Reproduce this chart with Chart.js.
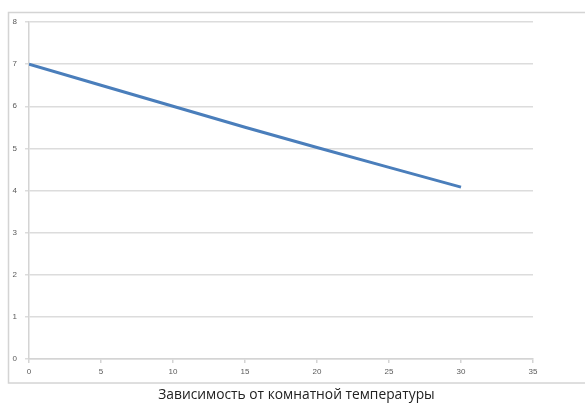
<!DOCTYPE html>
<html>
<head>
<meta charset="utf-8">
<script src="https://cdn.jsdelivr.net/npm/chart.js@4"></script>
<style>
html,body{margin:0;padding:0;background:#fff;}
#wrap{width:585px;height:406px;position:relative;}
</style>
</head>
<body>
<div id="wrap"><canvas id="c" width="585" height="406"></canvas></div>
<script>
const temperatures = [0, 5, 10, 15, 20, 25, 30];
const values = [7.0, 6.5, 6.0, 5.5, 5.02, 4.55, 4.08];
const xTicks = [0, 5, 10, 15, 20, 25, 30, 35];
const yTicks = [0, 1, 2, 3, 4, 5, 6, 7, 8];
const chartTitle = 'Зависимость от комнатной температуры';

const frame = {
  id: 'frame',
  beforeDraw(chart) {
    const ctx = chart.ctx;
    ctx.save();
    ctx.fillStyle = '#fff';
    ctx.fillRect(0, 0, chart.width, chart.height);
    ctx.strokeStyle = '#d4d4d4';
    ctx.lineWidth = 1.5;
    ctx.strokeRect(8.5, 12.5, 600, 370.5);
    ctx.restore();
  },
  afterDraw(chart) {
    const ctx = chart.ctx;
    ctx.save();
    ctx.fillStyle = '#222';
    ctx.font = '13.8px "Open Sans"';
    ctx.textAlign = 'center';
    ctx.textBaseline = 'middle';
    ctx.fillText(chartTitle, chart.width / 2 + 4, 395);
    ctx.restore();
  }
};

new Chart(document.getElementById('c'), {
  type: 'line',
  data: {
    datasets: [{
      data: temperatures.map((t, i) => ({x: t, y: values[i]})),
      borderColor: '#4a7ebb',
      borderWidth: 3,
      pointRadius: 0,
      tension: 0,
      fill: false
    }]
  },
  plugins: [frame],
  options: {
    responsive: false,
    animation: false,
    devicePixelRatio: 1,
    layout: { padding: { left: 8, right: 52, top: 22, bottom: 23 } },
    plugins: {
      legend: { display: false },
      tooltip: { enabled: false },
      title: { display: false }
    },
    scales: {
      x: {
        type: 'linear',
        min: 0, max: 35,
        afterBuildTicks(s) { s.ticks = xTicks.map(v => ({value: v})); },
        afterFit(s) { s.height = 24; },
        grid: { drawOnChartArea: false, color: '#d4d4d4', lineWidth: 1.5, tickLength: 4 },
        border: { color: '#d4d4d4', width: 1.5 },
        ticks: { color: '#5a5a5a', font: { family: 'Liberation Sans', size: 8 }, padding: 4, maxRotation: 0 }
      },
      y: {
        min: 0, max: 8,
        afterBuildTicks(s) { s.ticks = yTicks.map(v => ({value: v})); },
        afterFit(s) { s.width = 21; },
        grid: { color: '#dcdcdc', lineWidth: 1.5, tickLength: 4 },
        border: { color: '#d4d4d4', width: 1.5 },
        ticks: { color: '#5a5a5a', font: { family: 'Liberation Sans', size: 8 }, padding: 8 }
      }
    }
  }
});
</script>
</body>
</html>
